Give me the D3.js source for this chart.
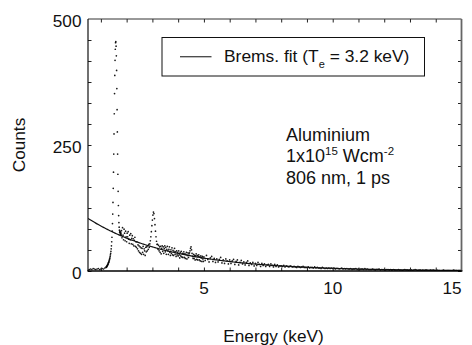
<!DOCTYPE html>
<html>
<head>
<meta charset="utf-8">
<script src="https://cdn.jsdelivr.net/npm/d3@7"></script>
<style>
  html, body { margin: 0; padding: 0; background: #fff; }
  svg { display: block; font-family: "Liberation Sans", Arial, sans-serif; }
</style>
</head>
<body>
<svg id="chart" width="472" height="345"></svg>
<script>
// Measured X-ray spectrum, stored as channel segments (start energy, channel width, counts).
const lowStart = 0.50, lowStep = 0.05;
const lowCounts = [2, 3, 4, 3, 5, 4, 3, 4, 5, 3, 4, 5, 4, 6];

const lineStart = 1.20, lineStep = 0.01;
const lineCounts = [
  7, 8, 8, 9, 10, 11, 12, 13, 14, 16,
  17, 18, 20, 22, 24, 26, 29, 32, 35, 39,
  44, 50, 58, 67, 79, 94, 113, 136, 164, 196,
  232, 272, 312, 352, 388, 418, 440, 453, 455, 446,
  427, 398, 362, 320, 276, 232, 192, 158, 130, 110,
  96, 87, 81, 77, 79, 74, 77, 72, 75, 71
];

const midStart = 1.80, midStep = 0.02;
const midCounts = [
  80, 66, 86, 71, 62, 83, 75, 60, 79, 68,
  58, 75, 68, 78, 63, 55, 71, 62, 74, 54,
  65, 70, 53, 64, 50, 61, 67, 49, 58, 47,
  58, 44, 52, 40, 50, 37, 48, 35, 46, 33,
  45, 37, 49, 33, 44, 40, 31, 47, 38, 48,
  40, 50, 43, 53, 47, 54, 60, 68, 78, 90,
  101, 111, 117, 114, 104, 92, 79, 68, 59, 53,
  53, 43, 51, 40, 48, 37, 49, 34, 45, 50,
  39, 48, 35, 45, 50, 38, 47, 33, 43, 49,
  40, 33, 43, 48, 37, 31, 42, 35, 46, 32,
  41, 31, 39, 45, 33, 38, 29, 40, 32, 37,
  30, 40, 32, 26, 37, 30, 39, 28, 35, 27,
  34, 38, 27, 34, 25, 33, 37, 24, 31, 36,
  27, 34, 36, 40, 45, 48, 42, 35, 29, 25,
  33, 25, 31, 22, 30, 34, 23, 31, 22, 29,
  32, 22, 28, 20, 30, 26, 19, 29, 24, 19
];

const tailStart = 5.00, tailStep = 0.05;
const tailCounts = [
  28, 21, 31, 23, 18, 26, 29, 19, 25, 17,
  24, 18, 23, 27, 16, 22, 15, 24, 20, 14,
  22, 15, 20, 23, 13, 19, 22, 12, 17, 21,
  14, 18, 12, 17, 20, 11, 16, 13, 17, 10,
  15, 11, 17, 13, 9, 15, 11, 14, 9, 12,
  13, 9, 14, 11, 8, 13, 9, 12, 8, 10,
  10, 9, 11, 8, 10, 9, 8, 10, 9, 8,
  9, 8, 7, 9, 8, 7, 8, 9, 7, 7,
  7, 8, 6, 7, 7, 6, 8, 6, 7, 6,
  6, 5, 7, 6, 5, 6, 5, 6, 5, 6,
  5, 6, 4, 5, 5, 4, 5, 6, 4, 5,
  4, 5, 4, 4, 5, 3, 4, 4, 5, 3,
  4, 3, 4, 4, 3, 5, 3, 4, 3, 3,
  3, 4, 3, 2, 3, 3, 4, 2, 3, 3,
  3, 2, 3, 3, 2, 3, 1, 3, 2, 2,
  2, 3, 2, 2, 1, 2, 3, 2, 2, 1,
  2, 2, 1, 2, 3, 2, 1, 2, 2, 1,
  2, 1, 2, 2, 1, 1, 2, 1, 2, 1,
  1, 2, 1, 1, 0, 1, 2, 1, 1, 1,
  1, 1, 0, 1, 2, 1, 1, 0, 1, 1,
  1
];

// Bremsstrahlung fit: counts = amplitude * exp(-E / Te)
const fitTemperature = 3.2;   // keV
const fitAmplitude = 122;     // counts extrapolated to E = 0

// Axis ticks
const xDomain = [0.5, 15];
const yDomain = [0, 500];
const xLabelTicks = [5, 10, 15];
const xAllTicks = [1, 2, 3, 4, 5, 6, 7, 8, 9, 10, 11, 12, 13, 14];
const yLabelTicks = [0, 250, 500];
const yAllTicks = [0, 41.667, 83.333, 125, 166.667, 208.333, 250, 291.667, 333.333, 375, 416.667, 458.333];

const toPoints = (start, step, counts) =>
  counts.map((c, i) => ({ e: +(start + i * step).toFixed(3), c }));

const spectrum = [
  ...toPoints(lowStart, lowStep, lowCounts),
  ...toPoints(lineStart, lineStep, lineCounts),
  ...toPoints(midStart, midStep, midCounts),
  ...toPoints(tailStart, tailStep, tailCounts)
];

const svg = d3.select("#chart");
const plot = { left: 88, right: 461.5, top: 19, bottom: 271 };

const x = d3.scaleLinear().domain(xDomain).range([plot.left, plot.right]);
const y = d3.scaleLinear().domain(yDomain).range([plot.bottom, plot.top]);

svg.append("defs").append("clipPath").attr("id", "plotClip")
  .append("rect")
  .attr("x", plot.left).attr("y", plot.top)
  .attr("width", plot.right - plot.left).attr("height", plot.bottom - plot.top);

// Spectrum points
svg.append("g").attr("clip-path", "url(#plotClip)")
  .selectAll("circle").data(spectrum).join("circle")
  .attr("cx", d => x(d.e))
  .attr("cy", d => y(d.c))
  .attr("r", 0.85)
  .attr("fill", "#000")
  .attr("fill-opacity", 0.9);

// Fit curve
const fitEnergies = d3.range(xDomain[0], xDomain[1] + 1e-9, 0.05);
svg.append("path")
  .attr("clip-path", "url(#plotClip)")
  .datum(fitEnergies)
  .attr("fill", "none")
  .attr("stroke", "#111")
  .attr("stroke-width", 1.2)
  .attr("d", d3.line()
    .x(e => x(e))
    .y(e => y(fitAmplitude * Math.exp(-e / fitTemperature))));

// Inward ticks on all four sides
const tick = 3.5;
function styleAxis(g) {
  g.select(".domain").remove();
  g.selectAll(".tick line").attr("stroke", "#222").attr("stroke-width", 1);
  g.selectAll(".tick text").remove();
}
svg.append("g").attr("transform", `translate(0,${plot.bottom})`)
  .call(d3.axisBottom(x).tickValues(xAllTicks).tickSize(-tick)).call(styleAxis);
svg.append("g").attr("transform", `translate(0,${plot.top})`)
  .call(d3.axisTop(x).tickValues(xAllTicks).tickSize(-tick)).call(styleAxis);
svg.append("g").attr("transform", `translate(${plot.left},0)`)
  .call(d3.axisLeft(y).tickValues(yAllTicks).tickSize(-tick)).call(styleAxis);
svg.append("g").attr("transform", `translate(${plot.right},0)`)
  .call(d3.axisRight(y).tickValues(yAllTicks).tickSize(-tick)).call(styleAxis);

// Frame
svg.append("line").attr("x1", plot.left).attr("x2", plot.right)
  .attr("y1", plot.top).attr("y2", plot.top).attr("stroke", "#333").attr("stroke-width", 1);
svg.append("line").attr("x1", plot.left).attr("x2", plot.left)
  .attr("y1", plot.top).attr("y2", plot.bottom).attr("stroke", "#111").attr("stroke-width", 1.2);
svg.append("line").attr("x1", plot.right).attr("x2", plot.right)
  .attr("y1", plot.top).attr("y2", plot.bottom).attr("stroke", "#666").attr("stroke-width", 1.8);
svg.append("line").attr("x1", plot.left - 0.6).attr("x2", plot.right + 0.9)
  .attr("y1", plot.bottom).attr("y2", plot.bottom).attr("stroke", "#000").attr("stroke-width", 1.6);

// Tick labels
const fontSize = 17.2;
svg.append("g").selectAll("text").data(xLabelTicks).join("text")
  .attr("x", d => x(d))
  .attr("y", 293.5)
  .attr("text-anchor", d => d === xDomain[1] ? "end" : "middle")
  .attr("font-size", fontSize)
  .attr("fill", "#111")
  .text(d => d);

svg.append("g").selectAll("text").data(yLabelTicks).join("text")
  .attr("x", plot.left - 6.5)
  .attr("y", d => y(d) + 7.5)
  .attr("text-anchor", "end")
  .attr("font-size", fontSize)
  .attr("fill", "#111")
  .text(d => d);

// Axis titles
svg.append("text")
  .attr("x", 273.5).attr("y", 342)
  .attr("text-anchor", "middle")
  .attr("font-size", fontSize)
  .attr("fill", "#111")
  .text("Energy (keV)");

svg.append("text")
  .attr("transform", "translate(25,145) rotate(-90)")
  .attr("text-anchor", "middle")
  .attr("font-size", fontSize)
  .attr("fill", "#111")
  .text("Counts");

// Legend
const legend = svg.append("g");
legend.append("rect")
  .attr("x", 162).attr("y", 37.5).attr("width", 262.5).attr("height", 38.5)
  .attr("fill", "#fff").attr("stroke", "#111").attr("stroke-width", 1);
legend.append("line")
  .attr("x1", 180).attr("x2", 211.5).attr("y1", 56.7).attr("y2", 56.7)
  .attr("stroke", "#444").attr("stroke-width", 1.3);
const legendText = legend.append("text")
  .attr("x", 224).attr("y", 62.3)
  .attr("font-size", 17.4)
  .attr("fill", "#111");
legendText.append("tspan").text("Brems. fit (T");
legendText.append("tspan").attr("dy", 6).attr("font-size", 11).text("e");
legendText.append("tspan").attr("dy", -6).text(` = ${fitTemperature} keV)`);

// Shot conditions
const note = svg.append("g").attr("font-size", 18).attr("fill", "#111");
note.append("text").attr("x", 286).attr("y", 140.5).text("Aluminium");
const intensity = note.append("text").attr("x", 286).attr("y", 162);
intensity.append("tspan").text("1x10");
intensity.append("tspan").attr("dy", -7).attr("font-size", 11.5).text("15");
intensity.append("tspan").attr("dy", 7).text(" Wcm");
intensity.append("tspan").attr("dy", -7).attr("font-size", 11.5).text("-2");
note.append("text").attr("x", 286).attr("y", 184).text("806 nm, 1 ps");
</script>
</body>
</html>
